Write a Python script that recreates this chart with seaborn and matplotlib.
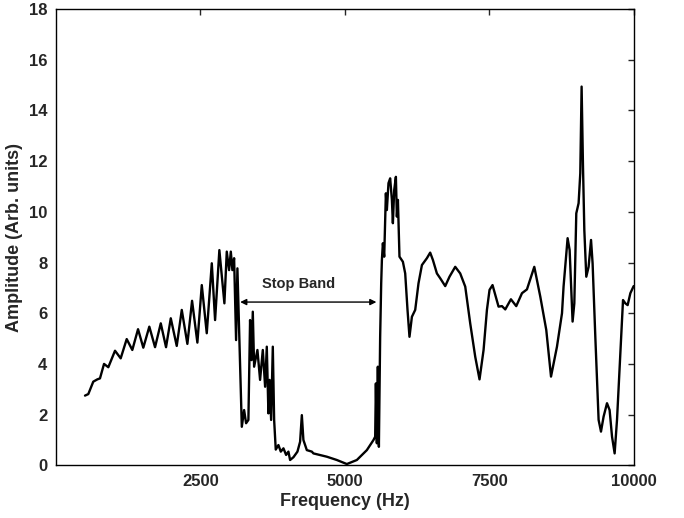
import matplotlib
matplotlib.use("Agg")
import matplotlib.pyplot as plt
import seaborn as sns
import pandas as pd

# spectrum
freq = [507, 564, 650, 720, 766, 836, 910, 1026, 1124, 1228, 1325, 1424, 1515, 1619,
        1718, 1817, 1908, 1990, 2093, 2180, 2277, 2358, 2450, 2526, 2612, 2699, 2756,
        2830, 2917, 2958, 2998, 3028, 3055, 3085, 3119, 3142, 3171, 3218, 3258, 3292,
        3332, 3361, 3387, 3408, 3431, 3488, 3534, 3581, 3621, 3650, 3678, 3699, 3725,
        3754, 3777, 3805, 3851, 3892, 3938, 3984, 4024, 4053, 4111, 4180, 4226, 4256,
        4283, 4342, 4429, 4456, 4688, 4861, 5034, 5207, 5380, 5495, 5524, 5536, 5553,
        5570, 5588, 5610, 5628, 5640, 5657, 5680, 5709, 5726, 5754, 5783, 5813, 5830,
        5853, 5882, 5899, 5917, 5944, 6003, 6043, 6083, 6117, 6159, 6216, 6273, 6332,
        6418, 6475, 6522, 6591, 6648, 6735, 6809, 6908, 6994, 7081, 7167, 7254, 7328,
        7398, 7456, 7501, 7553, 7657, 7716, 7773, 7871, 7963, 8062, 8148, 8275, 8379,
        8482, 8564, 8667, 8754, 8781, 8851, 8886, 8937, 8967, 9001, 9041, 9070, 9093,
        9117, 9140, 9174, 9214, 9256, 9283, 9330, 9387, 9428, 9473, 9532, 9577, 9619,
        9664, 9705, 9762, 9809, 9849, 9889, 9936, 9993]
amp = [2.75, 2.81, 3.30, 3.39, 3.43, 4.00, 3.87, 4.52, 4.22, 4.98, 4.55, 5.37, 4.64, 5.47,
       4.66, 5.60, 4.66, 5.80, 4.71, 6.13, 4.79, 6.49, 4.84, 7.11, 5.21, 7.97, 5.73,
       8.49, 6.39, 8.43, 7.70, 8.43, 7.70, 8.17, 4.94, 7.77, 5.34, 1.52, 2.18, 1.66,
       1.79, 5.73, 4.15, 6.06, 3.89, 4.55, 3.37, 4.55, 3.10, 4.68, 2.05, 3.37, 1.79,
       4.68, 1.79, 0.62, 0.80, 0.54, 0.67, 0.41, 0.54, 0.21, 0.32, 0.54, 0.93, 1.98,
       1.00, 0.60, 0.54, 0.47, 0.34, 0.21, 0.05, 0.21, 0.60, 1.00, 1.13, 3.23, 0.87,
       3.89, 0.73, 5.07, 7.18, 8.10, 8.76, 8.23, 10.73, 10.07, 11.13, 11.32, 10.47, 9.55,
       10.86, 11.38, 9.81, 10.47, 8.23, 8.03, 7.57, 6.13, 5.07, 5.86, 6.13, 7.18, 7.90,
       8.17, 8.39, 8.10, 7.57, 7.38, 7.07, 7.44, 7.83, 7.57, 7.05, 5.60, 4.28, 3.39,
       4.55, 6.13, 6.92, 7.11, 6.26, 6.28, 6.15, 6.55, 6.28, 6.79, 6.94, 7.83, 6.65,
       5.34, 3.50, 4.68, 6.00, 7.05, 8.96, 8.49, 5.67, 6.39, 9.94, 10.34, 11.52, 14.94,
       11.78, 9.28, 7.44, 7.83, 8.89, 7.97, 5.07, 1.79, 1.33, 1.92, 2.45, 2.18, 1.13,
       0.47, 1.79, 4.42, 6.52, 6.39, 6.32, 6.79, 7.07]

band_start, band_end, band_level = 3190, 5545, 6.44
band_label = "Stop Band"

df = pd.DataFrame({"freq": freq, "amp": amp})

sns.set_style("white")
plt.rcParams["font.family"] = ["Liberation Sans", "DejaVu Sans"]
plt.rcParams["font.weight"] = "bold"

fig = plt.figure(figsize=(6.84, 5.18), dpi=100)
ax = fig.add_axes([0.0814, 0.1017, 0.8456, 0.8809])

sns.lineplot(data=df, x="freq", y="amp", color="black", linewidth=1.7,
             estimator=None, ax=ax, solid_joinstyle="round")

# stop band marker
ax.annotate("", xy=(band_start, band_level), xytext=(band_end, band_level),
            arrowprops=dict(arrowstyle="<|-|>", color="black", lw=1.0,
                            shrinkA=0, shrinkB=0, mutation_scale=9))
ax.text((band_start + band_end) / 2 - 170, band_level + 0.45, band_label,
        ha="center", va="bottom", fontsize=10.5, fontweight="bold")

ax.set_xlim(0, 10000)
ax.set_ylim(0, 18)
ax.set_xticks([2500, 5000, 7500, 10000])
ax.set_yticks(range(0, 19, 2))
ax.tick_params(direction="in", length=4, width=1, top=True, right=True,
               labelsize=12, pad=6)
for lab in ax.get_xticklabels() + ax.get_yticklabels():
    lab.set_fontweight("bold")
for sp in ax.spines.values():
    sp.set_color("black")
    sp.set_linewidth(1.0)

ax.set_xlabel("Frequency (Hz)", fontsize=13, fontweight="bold", labelpad=3)
ax.set_ylabel("Amplitude (Arb. units)", fontsize=13, fontweight="bold", labelpad=4)

fig.savefig("out.png", dpi=100)
plt.close(fig)
